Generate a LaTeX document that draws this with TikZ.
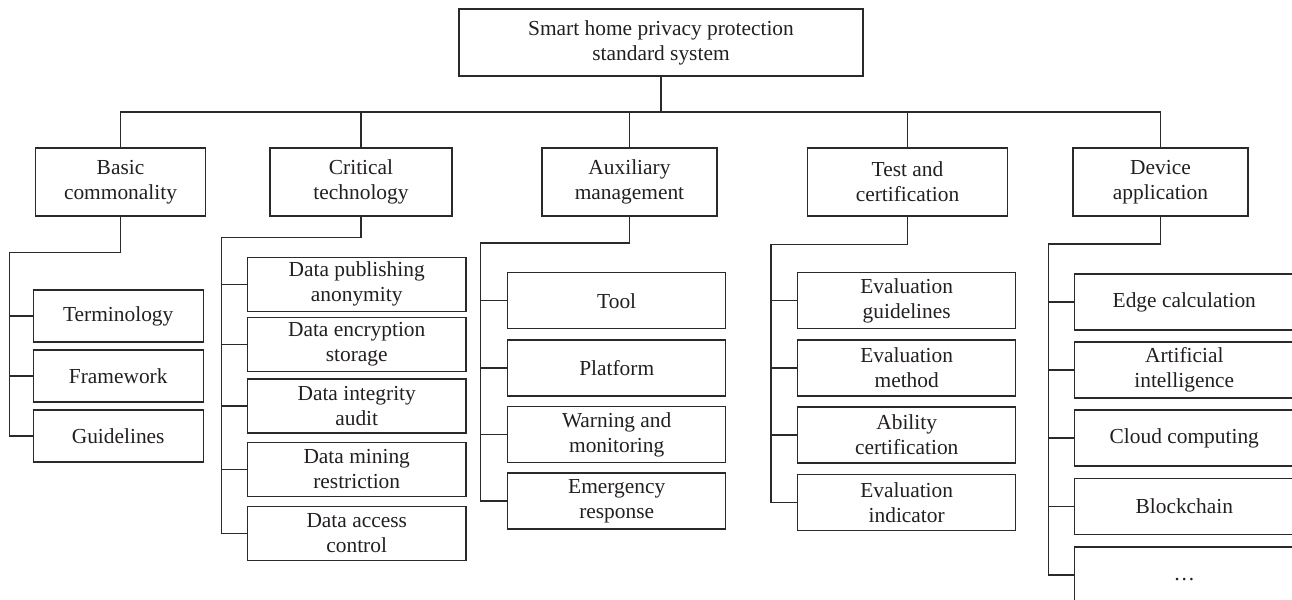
\documentclass[tikz,border=0pt]{standalone}
\usepackage{fontspec}
\setmainfont{Liberation Serif}
\usepackage{xcolor}
\usepackage{tikz}
\definecolor{Frame}{HTML}{2A2A2A}
\definecolor{Ink}{HTML}{231F20}

\begin{document}
\begin{tikzpicture}[x=0.5pt,y=-0.5pt,
  root/.style={draw=Frame,line width=0.7pt,minimum width=202pt,minimum height=33.5pt,align=center,inner sep=0pt,text=Ink,font=\fontsize{10.7}{12.5}\selectfont},
  cat/.style={draw=Frame,line width=0.7pt,minimum width=#1,minimum height=34pt,align=center,inner sep=0pt,text=Ink,font=\fontsize{10.7}{12.5}\selectfont},
  leaf/.style 2 args={draw=Frame,line width=0.7pt,minimum width=#1,minimum height=#2,align=center,inner sep=0pt,text=Ink,font=\fontsize{10.7}{12.5}\selectfont},
  wire/.style={draw=Frame,line width=0.7pt}
]
\useasboundingbox (0,0) rectangle (1292,600);
\clip (0,0) rectangle (1292,600);

\node[root] (root) at (661,42.5) {Smart home privacy protection\\standard system};

\node[cat=85pt] (basic) at (120.5,182) {Basic\\commonality};
\node[cat=91pt] (critical) at (361,182) {Critical\\technology};
\node[cat=87.5pt] (aux) at (629.5,182) {Auxiliary\\management};
\node[cat=100pt] (test) at (907.5,182) {Test and\\certification};
\node[cat=87.5pt] (device) at (1160.5,182) {Device\\application};

\coordinate (bus) at (661,112);
\draw[wire,line width=1pt] (root.south) -- (root.south |- bus);
\draw[wire] (basic.north) -- (basic.north |- bus) -- (device.north |- bus) -- (device.north);
\foreach \n in {critical,aux,test}
  \draw[wire] (\n.north) -- (\n.north |- bus);

\node[leaf={85pt}{26pt}] (term) at (118.2,316) {Terminology};
\node[leaf={85pt}{26pt}] (frame) at (118.2,376) {Framework};
\node[leaf={85pt}{26pt}] (guide) at (118.2,436) {Guidelines};

\node[leaf={109.3pt}{27pt}] (publish) at (356.7,284.3) {Data publishing\\anonymity};
\node[leaf={109.3pt}{27pt}] (encrypt) at (356.7,344.2) {Data encryption\\storage};
\node[leaf={109.3pt}{27pt}] (integrity) at (356.7,405.9) {Data integrity\\audit};
\node[leaf={109.3pt}{27pt}] (mining) at (356.7,469.5) {Data mining\\restriction};
\node[leaf={109.3pt}{27pt}] (access) at (356.7,533.3) {Data access\\control};

\node[leaf={109pt}{28pt}] (tool) at (616.7,300.7) {Tool};
\node[leaf={109pt}{28pt}] (platform) at (616.7,368) {Platform};
\node[leaf={109pt}{28pt}] (warning) at (616.7,434.7) {Warning and\\monitoring};
\node[leaf={109pt}{28pt}] (emergency) at (616.7,501) {Emergency\\response};

\node[leaf={109pt}{28pt}] (evguide) at (906.7,300.7) {Evaluation\\guidelines};
\node[leaf={109pt}{28pt}] (evmethod) at (906.7,368) {Evaluation\\method};
\node[leaf={109pt}{28pt}] (ability) at (906.7,435) {Ability\\certification};
\node[leaf={109pt}{28pt}] (evindic) at (906.7,502.2) {Evaluation\\indicator};

\node[leaf={109.6pt}{28pt}] (edge) at (1184.3,302) {Edge calculation};
\node[leaf={109.6pt}{28pt}] (ai) at (1184.3,370) {Artificial\\intelligence};
\node[leaf={109.6pt}{28pt}] (cloud) at (1184.3,438) {Cloud computing};
\node[leaf={109.6pt}{28pt}] (chain) at (1184.3,506.5) {Blockchain};
\node[leaf={109.6pt}{28pt}] (more) at (1184.3,575) {\strut\ldots};

\coordinate (basbend) at (9.7,252.3);
\coordinate (crbend) at (221.7,237.3);
\coordinate (auxbend) at (480.7,243);
\coordinate (tsbend) at (771,244.7);
\coordinate (dvbend) at (1048.7,244);

\draw[wire] (basic.south) |- (basbend) |- (guide.west);
\foreach \n in {term,frame}
  \draw[wire] (\n.west) -- (\n.west -| basbend);

\draw[wire] (critical.south) |- (crbend) |- (access.west);
\foreach \n in {publish,encrypt,integrity,mining}
  \draw[wire] (\n.west) -- (\n.west -| crbend);

\draw[wire] (aux.south) |- (auxbend) |- (emergency.west);
\foreach \n in {tool,platform,warning}
  \draw[wire] (\n.west) -- (\n.west -| auxbend);

\draw[wire] (test.south) |- (tsbend) |- (evindic.west);
\foreach \n in {evguide,evmethod,ability}
  \draw[wire] (\n.west) -- (\n.west -| tsbend);

\draw[wire] (device.south) |- (dvbend) |- (more.west);
\foreach \n in {edge,ai,cloud,chain}
  \draw[wire] (\n.west) -- (\n.west -| dvbend);
\end{tikzpicture}
\end{document}
